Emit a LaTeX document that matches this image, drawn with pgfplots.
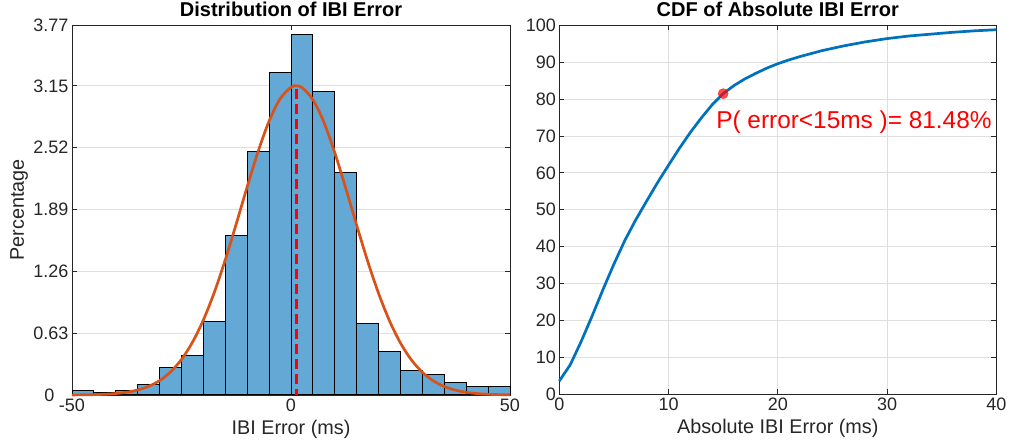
\documentclass[border=0pt]{standalone}
\usepackage{fontspec}
\setmainfont{Liberation Sans}
\usepackage{pgfplots}
\pgfplotsset{compat=1.18}
\definecolor{axgray}{RGB}{38,38,38}
\definecolor{gridc}{RGB}{223,223,223}
\definecolor{barblue}{RGB}{100,168,214}
\definecolor{mlorange}{RGB}{217,83,25}
\definecolor{mlblue}{RGB}{0,114,189}
\pgfplotsset{
  every axis title shift=0pt,
  myaxis/.style={
    scale only axis, anchor=south west,
    axis line style={axgray,line width=0.8bp},
    tick style={axgray,line width=0.8bp},
    major tick length=5bp, tick align=inside,
    tick label style={font=\fontsize{18bp}{20bp}\selectfont, text=axgray},
    /pgf/number format/assume math mode=true,
    label style={font=\fontsize{19.8bp}{22bp}\selectfont, text=axgray},
    title style={font=\fontsize{20bp}{22bp}\selectfont\bfseries, text=black},
    grid style={gridc, line width=0.8bp},
    clip=false,
  }
}
\begin{document}
\begin{tikzpicture}
\begin{axis}[myaxis,
  at={(72bp,49bp)}, width=438bp, height=370bp,
  xmin=-50, xmax=50, ymin=0, ymax=3.77,
  xtick={-50,0,50},
  ytick={0,0.63,1.26,1.89,2.52,3.15,3.77},
  yticklabels={0\hspace*{14bp},0.63,1.26,1.89,2.52,3.15,3.77},
  ymajorgrids,
  title={Distribution of IBI Error},
  title style={at={(axis description cs:0.5,1.0224)}, anchor=base, yshift=0pt},
  xlabel={IBI Error (ms)},
  xlabel style={at={(axis description cs:0.5,-0.1081)}, anchor=base},
  ylabel={Percentage},
  ylabel style={at={(axis description cs:-0.1096,0.5)}, anchor=base},
]
\addplot[ybar interval, fill=barblue, draw=black, line width=1bp] coordinates {
(-50,0.041) (-45,0.024) (-40,0.041) (-35,0.105) (-30,0.279) (-25,0.404)
(-20,0.747) (-15,1.627) (-10,2.486) (-5,3.291) (0,3.672) (5,3.094)
(10,2.269) (15,0.730) (20,0.442) (25,0.248) (30,0.204) (35,0.126)
(40,0.088) (45,0.088) (50,0.088)};
\addplot[red, line width=2.7bp, dash pattern=on 10bp off 5bp] coordinates {(1.2,3.12) (1.2,0)};
\addplot[mlorange, line width=2.7bp, smooth] coordinates {
(-50,0.0008) (-47.5,0.0018) (-45,0.0038) (-42.5,0.0077) (-40,0.0150)
(-37.5,0.0282) (-35,0.0508) (-32.5,0.0881) (-30,0.1468) (-27.5,0.2353)
(-25,0.3625) (-22.5,0.5371) (-20,0.7648) (-17.5,1.0471) (-15,1.378)
(-12.5,1.744) (-10,2.122) (-7.5,2.482) (-5,2.791) (-2.5,3.017)
(0,3.136) (1.2,3.15) (2.5,3.133) (5,3.010) (7.5,2.780) (10,2.468)
(12.5,2.107) (15,1.729) (17.5,1.364) (20,1.035) (22.5,0.7547)
(25,0.5290) (27.5,0.3567) (30,0.2311) (32.5,0.1440) (35,0.0862)
(37.5,0.0497) (40,0.0275) (42.5,0.0146) (45,0.0075) (47.5,0.0037) (50,0.0017)};
\end{axis}
\begin{axis}[myaxis,
  at={(559.3bp,49.7bp)}, width=437bp, height=369bp,
  xmin=0, xmax=40, ymin=0, ymax=100,
  xtick={0,10,20,30,40},
  ytick={0,10,...,100},
  xmajorgrids, ymajorgrids,
  title={CDF of Absolute IBI Error},
  title style={at={(axis description cs:0.5,1.0225)}, anchor=base, yshift=0pt},
  xlabel={Absolute IBI Error (ms)},
  xlabel style={at={(axis description cs:0.5,-0.1057)}, anchor=base},
]
\addplot[mlblue, line width=2.7bp] coordinates {
(0,3.6) (1,8.0) (2,14.3) (3,21.2) (4,28.4) (5,35.3) (6,41.7) (7,47.3)
(8,52.4) (9,57.4) (10,62.1) (11,66.7) (12,71.0) (13,74.9) (14,78.5)
(15,81.48) (16,83.7) (17,85.5) (18,87.0) (19,88.4) (20,89.6) (21,90.6)
(22,91.5) (24,93.1) (26,94.4) (28,95.5) (30,96.4) (32,97.1) (34,97.6)
(36,98.1) (38,98.5) (40,98.8)};
\addplot[only marks, mark=*, mark size=5bp, mark options={fill=red, draw=red, fill opacity=0.7, draw opacity=0.8}] coordinates {(15,81.48)};
\node[anchor=base west, inner sep=0pt, text=red, font=\fontsize{24.4bp}{26bp}\selectfont] at (axis cs:14.35,72.1) {P( error<15ms )= 81.48\%};
\end{axis}
\pgfresetboundingbox
\path[use as bounding box] (0,0) rectangle (1009bp,444bp);
\end{tikzpicture}
\end{document}
